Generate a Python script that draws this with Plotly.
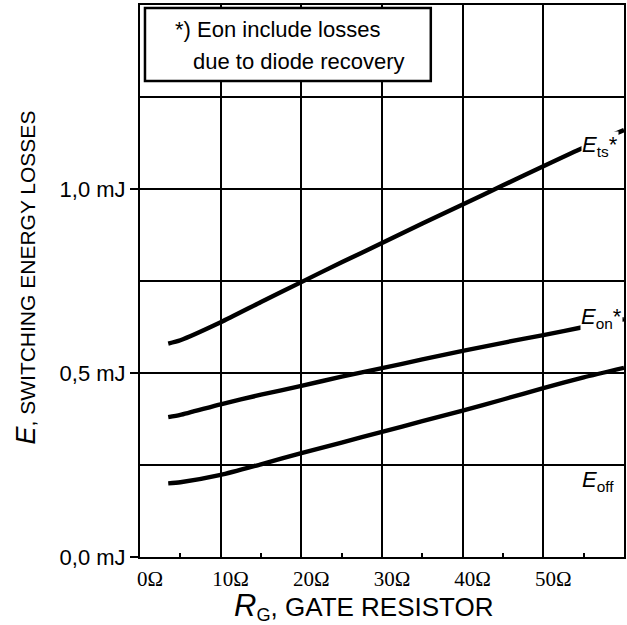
import plotly.graph_objects as go

# Gate resistance (ohm) and switching energies (mJ)
rg = [3.5, 5, 10, 15, 20, 25, 30, 35, 40, 45, 50, 55, 60]
e_ts = [0.580, 0.589, 0.638, 0.693, 0.747, 0.801, 0.853, 0.906, 0.958, 1.010, 1.062, 1.113, 1.160]
e_on = [0.380, 0.386, 0.415, 0.441, 0.465, 0.490, 0.513, 0.537, 0.560, 0.582, 0.603, 0.625, 0.646]
e_off = [0.200, 0.203, 0.223, 0.252, 0.282, 0.311, 0.340, 0.369, 0.398, 0.428, 0.459, 0.488, 0.514]

x_ticks = [0, 10, 20, 30, 40, 50]
x_tick_text = ["0Ω", "10Ω", "20Ω", "30Ω", "40Ω", "50Ω"]
y_ticks = [0.0, 0.5, 1.0]
y_tick_text = ["0,0 mJ", "0,5 mJ", "1,0 mJ"]

W, H = 627, 625
ML, MR, MT, MB = 140, 1, 5, 68
PW, PH = W - ML - MR, H - MT - MB


def px(x):
    return (x - ML) / PW


def py(y):
    return (H - MB - y) / PH


SANS = "Liberation Sans, Arial, sans-serif"
SERIF = "Liberation Serif, Times New Roman, serif"

fig = go.Figure()
for ys in (e_ts, e_on, e_off):
    fig.add_trace(go.Scatter(
        x=rg, y=ys, mode="lines",
        line=dict(color="black", width=4.4, shape="spline", smoothing=0.6),
        hoverinfo="skip", showlegend=False,
    ))

fig.update_layout(
    width=W, height=H,
    margin=dict(l=ML, r=MR, t=MT, b=MB, pad=0),
    paper_bgcolor="white", plot_bgcolor="white",
    showlegend=False,
    xaxis=dict(
        range=[0, 60], tickvals=x_ticks, ticktext=x_tick_text,
        showgrid=True, gridcolor="black", gridwidth=2,
        showline=True, linecolor="black", linewidth=2, mirror=True,
        ticks="", zeroline=False,
        tickfont=dict(family=SERIF, size=21, color="black"),
        ticklabelshift=10, ticklabelstandoff=2,
        minor=dict(tickvals=[5, 15, 25, 35, 45, 55], ticks="inside",
                   ticklen=4, tickwidth=2, tickcolor="black", showgrid=False),
    ),
    yaxis=dict(
        range=[0, 1.5], tickvals=y_ticks, ticktext=y_tick_text,
        showgrid=True, gridcolor="black", gridwidth=2,
        showline=True, linecolor="black", linewidth=2, mirror=True,
        ticks="outside", ticklen=8, tickwidth=2, tickcolor="black",
        zeroline=False,
        tickfont=dict(family=SANS, size=22, color="black"),
        minor=dict(tickvals=[0.25, 0.75, 1.25], ticks="", showgrid=True,
                   gridcolor="black", gridwidth=2),
    ),
)

# Note box in the upper-left corner
fig.add_shape(type="rect", xref="paper", yref="paper",
              x0=px(145), x1=px(432), y0=py(81), y1=py(8),
              line=dict(color="black", width=2.5), fillcolor="white", layer="above")

annotations = [
    dict(text="*) Eon include losses", x=px(173), y=py(30), xanchor="left",
         font=dict(family=SANS, size=22, color="black")),
    dict(text="due to diode recovery", x=px(191), y=py(61), xanchor="left",
         font=dict(family=SANS, size=22, color="black")),
    # Curve labels
    dict(text="<i>E</i><sub>ts</sub>*", x=px(583), y=py(146), xanchor="left",
         bgcolor="white", borderpad=0,
         font=dict(family=SANS, size=22, color="black")),
    dict(text="<i>E</i><sub>on</sub>*", x=px(582), y=py(318), xanchor="left",
         bgcolor="white", borderpad=0,
         font=dict(family=SANS, size=22, color="black")),
    dict(text="<i>E</i><sub>off</sub>", x=px(583), y=py(481), xanchor="left",
         bgcolor="white", borderpad=0,
         font=dict(family=SANS, size=22, color="black")),
    # Axis titles
    dict(text='<span style="font-size:27px"><i>E</i></span>, SWITCHING ENERGY LOSSES',
         x=px(26), y=py(277), textangle=-90, xanchor="center", yanchor="middle",
         font=dict(family=SANS, size=21, color="black")),
    dict(text='<span style="font-size:31px"><i>R</i></span><sub>G</sub>, GATE RESISTOR',
         x=px(365), y=py(606), xanchor="center", yanchor="middle",
         font=dict(family=SANS, size=26, color="black")),
]
for a in annotations:
    a.setdefault("yanchor", "middle")
    fig.add_annotation(xref="paper", yref="paper", showarrow=False, **a)

fig.write_html("out.html")
